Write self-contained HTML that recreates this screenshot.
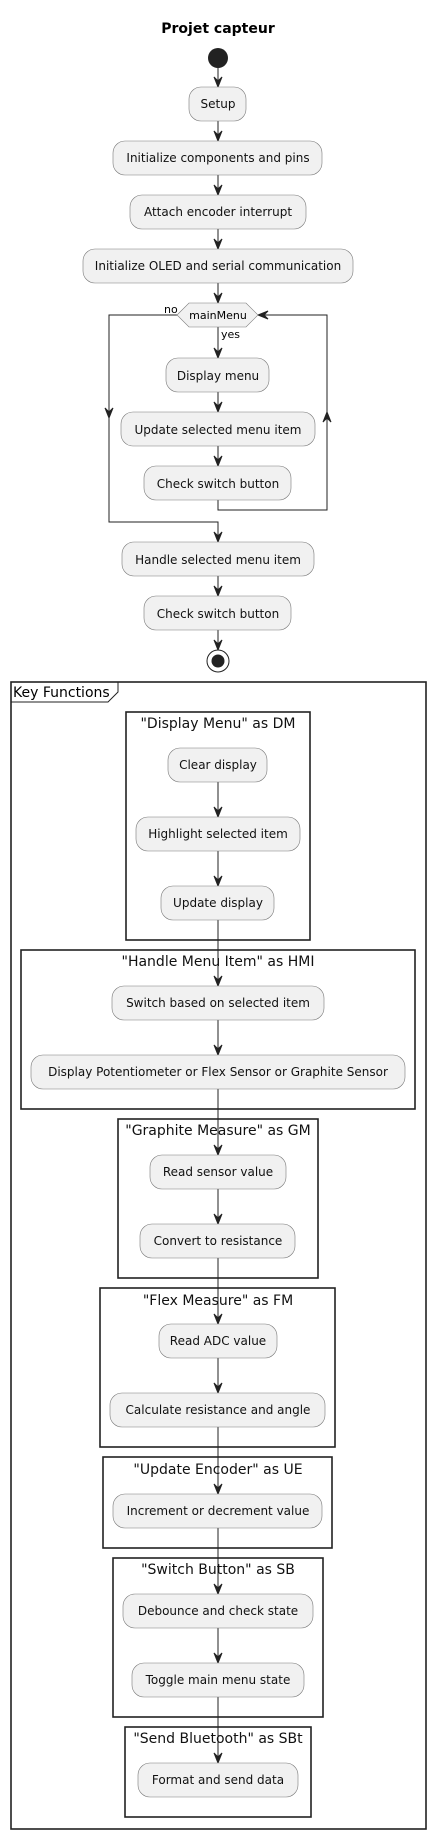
<!DOCTYPE html>
<html><head><meta charset="utf-8"><style>
html,body{margin:0;padding:0;background:#fff}
svg{display:block}
text{font-family:"DejaVu Sans","Liberation Sans",sans-serif}
.b{fill:#f1f1f1;stroke:#7a7a7a;stroke-width:0.6}
.t{font-size:12px;fill:#111;text-anchor:middle}
.f{fill:none;stroke:#222;stroke-width:1.6}
.ft{font-size:14px;fill:#111;text-anchor:middle}
.l{stroke:#222;stroke-width:1;fill:none}
</style></head><body>
<svg width="435" height="1839" viewBox="0 0 435 1839" xmlns="http://www.w3.org/2000/svg">
<defs>
<g id="ah"><polygon points="-4,-10 0,0 4,-10 0,-6" fill="#222" stroke="#222" stroke-width="1"/></g>
</defs>
<text x="218" y="33" font-size="14" font-weight="bold" text-anchor="middle">Projet capteur</text>
<circle cx="218" cy="58" r="10" fill="#222"/>
<!-- main lines -->
<path class="l" d="M218 68V87 M218 121V141 M218 175V195 M218 229V249 M218 283V303 M218 327V358 M218 392V412 M218 446V466 M218 576V596 M218 630V650"/>
<use href="#ah" x="218" y="87"/><use href="#ah" x="218" y="141"/><use href="#ah" x="218" y="195"/><use href="#ah" x="218" y="249"/><use href="#ah" x="218" y="303"/><use href="#ah" x="218" y="358"/><use href="#ah" x="218" y="412"/><use href="#ah" x="218" y="466"/><use href="#ah" x="218" y="596"/><use href="#ah" x="218" y="650"/>
<!-- loop -->
<path class="l" d="M177 315H109V522H218V542"/>
<use href="#ah" x="218" y="542"/>
<use href="#ah" x="109" y="418"/>
<path class="l" d="M218 500V510H327V315H258"/>
<g transform="translate(327,412) rotate(180)"><use href="#ah" x="0" y="0"/></g>
<g transform="translate(258,315) rotate(90)"><use href="#ah" x="0" y="0"/></g>
<rect class="b" x="189" y="87" width="57" height="34" rx="12"/><text class="t" x="218" y="108">Setup</text>
<rect class="b" x="113" y="141" width="209" height="34" rx="12"/><text class="t" x="218" y="162">Initialize components and pins</text>
<rect class="b" x="130" y="195" width="176" height="34" rx="12"/><text class="t" x="218" y="216">Attach encoder interrupt</text>
<rect class="b" x="83" y="249" width="270" height="34" rx="12"/><text class="t" x="218" y="270">Initialize OLED and serial communication</text>
<polygon class="b" points="177,315 189,303 246,303 258,315 246,327 189,327"/>
<text x="218" y="319" font-size="11" text-anchor="middle">mainMenu</text>
<text x="164" y="313" font-size="11">no</text>
<text x="221" y="338" font-size="11">yes</text>
<rect class="b" x="166" y="358" width="103" height="34" rx="12"/><text class="t" x="218" y="380">Display menu</text>
<rect class="b" x="121" y="412" width="194" height="34" rx="12"/><text class="t" x="218" y="434">Update selected menu item</text>
<rect class="b" x="144" y="466" width="147" height="34" rx="12"/><text class="t" x="218" y="488">Check switch button</text>
<rect class="b" x="122" y="542" width="192" height="34" rx="12"/><text class="t" x="218" y="564">Handle selected menu item</text>
<rect class="b" x="144" y="596" width="147" height="34" rx="12"/><text class="t" x="218" y="618">Check switch button</text>
<circle cx="218" cy="661" r="11" fill="#fff" stroke="#222" stroke-width="1"/>
<circle cx="218" cy="661" r="6.5" fill="#222"/>
<!-- key functions -->
<rect class="f" x="11" y="682" width="415" height="1147"/>
<path class="l" d="M11 702H108L118 692V682" stroke-width="1.3"/>
<text x="13" y="697" font-size="14">Key Functions</text>
<rect class="f" x="126" y="712" width="184" height="228"/>
<rect class="f" x="21" y="950" width="394" height="159"/>
<rect class="f" x="118" y="1119" width="200" height="159"/>
<rect class="f" x="100" y="1288" width="235" height="159"/>
<rect class="f" x="103" y="1457" width="229" height="91"/>
<rect class="f" x="113" y="1558" width="210" height="159"/>
<rect class="f" x="125" y="1727" width="186" height="90"/>
<path class="l" d="M218 782V817 M218 851V1797"/>
<use href="#ah" x="218" y="817"/><use href="#ah" x="218" y="886"/><use href="#ah" x="218" y="986"/><use href="#ah" x="218" y="1055"/><use href="#ah" x="218" y="1155"/><use href="#ah" x="218" y="1224"/><use href="#ah" x="218" y="1324"/><use href="#ah" x="218" y="1393"/><use href="#ah" x="218" y="1494"/><use href="#ah" x="218" y="1594"/><use href="#ah" x="218" y="1663"/><use href="#ah" x="218" y="1763"/>
<text class="ft" x="218" y="728">"Display Menu" as DM</text>
<text class="ft" x="218" y="966">"Handle Menu Item" as HMI</text>
<text class="ft" x="218" y="1135">"Graphite Measure" as GM</text>
<text class="ft" x="218" y="1305">"Flex Measure" as FM</text>
<text class="ft" x="218" y="1474">"Update Encoder" as UE</text>
<text class="ft" x="218" y="1574">"Switch Button" as SB</text>
<text class="ft" x="218" y="1743">"Send Bluetooth" as SBt</text>
<rect class="b" x="168" y="748" width="99" height="34" rx="12"/><text class="t" x="218" y="769">Clear display</text>
<rect class="b" x="136" y="817" width="164" height="34" rx="12"/><text class="t" x="218" y="838">Highlight selected item</text>
<rect class="b" x="161" y="886" width="113" height="34" rx="12"/><text class="t" x="218" y="907">Update display</text>
<rect class="b" x="112" y="986" width="212" height="34" rx="12"/><text class="t" x="218" y="1007">Switch based on selected item</text>
<rect class="b" x="31" y="1055" width="374" height="34" rx="12"/><text class="t" x="218" y="1076">Display Potentiometer or Flex Sensor or Graphite Sensor</text>
<rect class="b" x="150" y="1155" width="136" height="34" rx="12"/><text class="t" x="218" y="1176">Read sensor value</text>
<rect class="b" x="140" y="1224" width="155" height="34" rx="12"/><text class="t" x="218" y="1245">Convert to resistance</text>
<rect class="b" x="159" y="1324" width="118" height="34" rx="12"/><text class="t" x="218" y="1345">Read ADC value</text>
<rect class="b" x="110" y="1393" width="215" height="34" rx="12"/><text class="t" x="218" y="1414">Calculate resistance and angle</text>
<rect class="b" x="113" y="1494" width="209" height="34" rx="12"/><text class="t" x="218" y="1515">Increment or decrement value</text>
<rect class="b" x="123" y="1594" width="190" height="34" rx="12"/><text class="t" x="218" y="1615">Debounce and check state</text>
<rect class="b" x="132" y="1663" width="172" height="34" rx="12"/><text class="t" x="218" y="1684">Toggle main menu state</text>
<rect class="b" x="138" y="1763" width="160" height="34" rx="12"/><text class="t" x="218" y="1784">Format and send data</text>
</svg>
</body></html>
